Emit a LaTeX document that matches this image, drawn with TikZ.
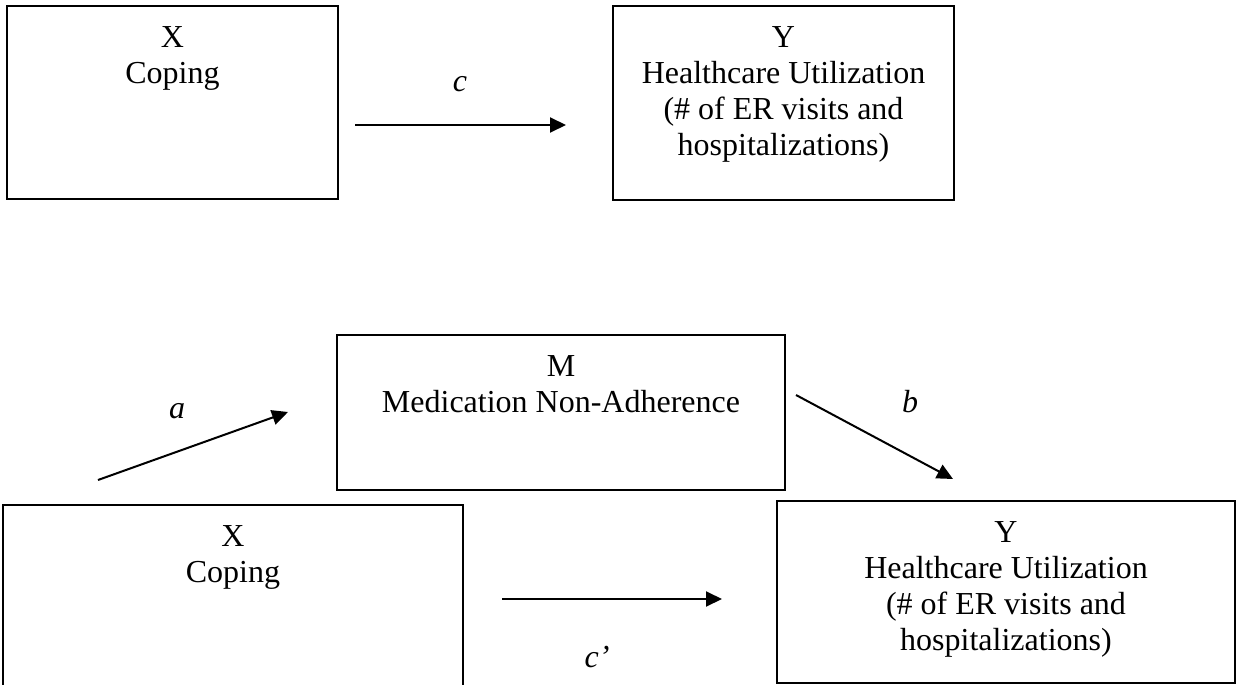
\documentclass[tikz,border=0pt]{standalone}
\usepackage{fontspec}
\setmainfont{Liberation Serif}
\usetikzlibrary{arrows.meta}
\begin{document}
\begin{tikzpicture}[x=0.5pt,y=-0.5pt,
  box/.style={draw,line width=1pt,inner sep=0pt,rectangle},
  txt/.style={anchor=base,inner sep=0pt,font=\fontsize{16pt}{18pt}\selectfont},
  lab/.style={anchor=base,inner sep=0pt,font=\fontsize{16pt}{18pt}\selectfont\itshape},
  conn/.style={line width=1pt,-{Triangle[length=8pt,width=7.5pt]}}]
\useasboundingbox (0,0) rectangle (1238,685);
\clip (0,0) rectangle (1238,685);
\renewcommand{\arraystretch}{1}
% top diagram
\node[box,minimum width=165.5pt,minimum height=96.5pt] (tx) at (172.5,102.5) {};
\node[box,minimum width=170.5pt,minimum height=97pt] (ty) at (783.5,103) {};
\node[txt] (txt1) at (172.5,47) {\begin{tabular}[t]{@{}c@{}}X\\Coping\end{tabular}};
\node[txt] (tyt) at (783.5,47) {\begin{tabular}[t]{@{}c@{}}Y\\Healthcare Utilization\\(\# of ER visits and\\hospitalizations)\end{tabular}};
\coordinate (c1s) at (355,125);
\coordinate (c1e) at (566,125);
\draw[conn] (c1s) -- (c1e);
\node[lab] (lc) at (460,91) {c};
% bottom diagram
\node[box,minimum width=224pt,minimum height=77.5pt] (m) at (561,412.5) {};
\node[txt] (mt) at (561,376) {\begin{tabular}[t]{@{}c@{}}M\\Medication Non-Adherence\end{tabular}};
\node[box,minimum width=230pt,minimum height=100pt] (bx) at (233,605) {};
\node[txt] (bxt) at (233,546) {\begin{tabular}[t]{@{}c@{}}X\\Coping\end{tabular}};
\node[box,minimum width=229pt,minimum height=91pt] (by) at (1006,592) {};
\node[txt] (byt) at (1006,542) {\begin{tabular}[t]{@{}c@{}}Y\\Healthcare Utilization\\(\# of ER visits and\\hospitalizations)\end{tabular}};
\coordinate (as) at (98,480);
\coordinate (ae) at (288,412);
\coordinate (bs) at (796,395);
\coordinate (be) at (953,479);
\coordinate (cs) at (502,599);
\coordinate (ce) at (722,599);
\draw[conn] (as) -- (ae);
\draw[conn] (bs) -- (be);
\draw[conn] (cs) -- (ce);
\node[lab] (la) at (177,418) {a};
\node[lab] (lb) at (910,412) {b};
\node[lab] (lcp) at (597,667) {c’};
\end{tikzpicture}
\end{document}
